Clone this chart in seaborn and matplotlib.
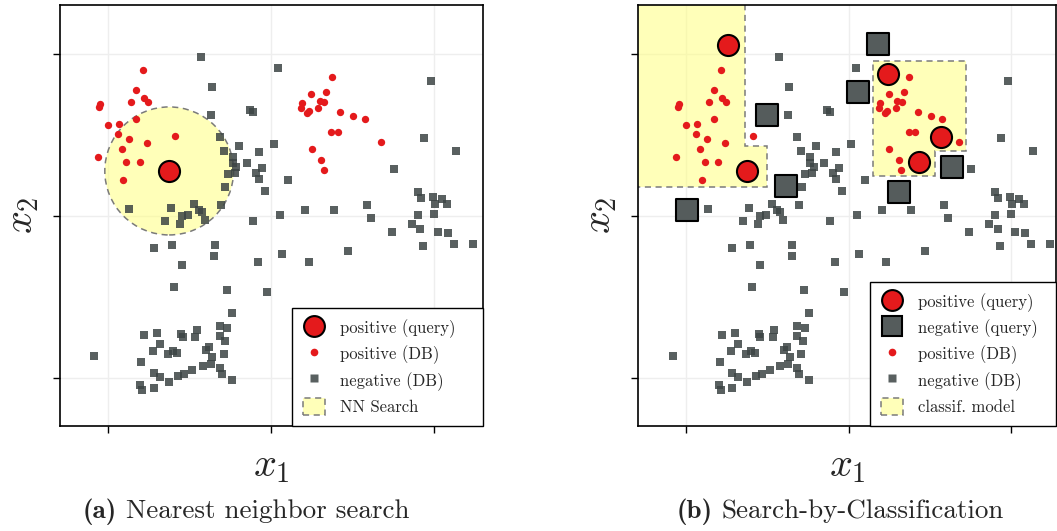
import matplotlib
matplotlib.use("Agg")
import matplotlib.pyplot as plt
import seaborn as sns
from matplotlib.patches import Circle, Polygon, Patch
from matplotlib.lines import Line2D

# ---------------------------------------------------------------- data
# database samples labelled negative
neg_x = [-0.432, 0.043, -0.365, 0.982, -0.131, -0.113, -0.371, -0.316, 0.016, -0.199,
         0.939, 1.135, -0.291, -0.076, -0.236, -0.236, -0.150, -0.213, -0.057, 0.754,
         -0.266, -0.223, -0.094, -0.076, 0.102, -0.285, -0.039, 0.902, 0.920, 0.994,
         1.047, 1.006, 1.080, -0.869, -0.611, -0.475, -0.309, -0.439, -0.422, -0.512,
         -0.547, 0.207, 0.385, 0.588, 0.053, 0.902, 1.000, -0.648, -0.406, -0.561,
         -0.113, 0.613, 0.863, 0.740, 0.916, 1.025, 1.086, -0.721, -0.605, -0.346,
         -0.352, 0.066, 0.932, 1.123, 1.240, 0.471, -0.082, 0.232, -0.549, -0.598,
         -0.273, -0.027, -0.242, -0.316, -0.270, -0.701, -0.777, -0.551, -0.543, -0.457,
         -0.469, -0.316, -0.281, -0.684, -0.727, -0.635, -0.602, -0.574, -0.398, -0.379,
         -0.363, -0.291, -1.084, -0.795, -0.420, -0.371, -0.316, -0.303, -0.486, -0.533,
         -0.570, -0.721, -0.680, -0.623, -0.242, -0.801, -0.789, -0.721]
neg_y = [0.983, 0.915, 0.798, 0.835, 0.656, 0.643, 0.625, 0.489, 0.442, 0.428,
         0.483, 0.403, 0.397, 0.391, 0.366, 0.329, 0.329, 0.302, 0.298, 0.292,
         0.261, 0.267, 0.267, 0.230, 0.218, 0.175, 0.156, 0.144, 0.113, 0.117,
         0.103, 0.076, 0.076, 0.045, 0.051, 0.072, 0.066, 0.033, 0.023, 0.006,
         -0.004, 0.033, 0.039, 0.064, 0.008, 0.004, 0.014, -0.029, -0.027, -0.053,
         -0.035, -0.016, -0.051, -0.097, -0.084, -0.097, -0.109, -0.201, -0.177, -0.183,
         -0.245, -0.238, -0.185, -0.175, -0.175, -0.220, -0.282, -0.288, -0.306, -0.442,
         -0.460, -0.473, -0.602, -0.680, -0.695, -0.721, -0.736, -0.730, -0.750, -0.705,
         -0.750, -0.742, -0.775, -0.791, -0.837, -0.853, -0.837, -0.847, -0.828, -0.812,
         -0.869, -0.853, -0.867, -0.904, -0.927, -0.915, -0.941, -0.976, -0.952, -0.976,
         -0.989, -0.972, -0.997, -1.026, -1.013, -1.042, -1.075, -1.065]

# database samples labelled positive
pos_x = [-0.787, -0.830, -0.859, -0.777, -0.754, -1.047, -1.053, -0.830, -1.000, -0.932,
         -0.939, -0.873, -0.760, -0.588, -0.914, -1.061, -0.887, -0.803, -0.906,
         0.373, 0.246, 0.340, 0.191, 0.299, 0.326, 0.184, 0.291, 0.221, 0.234,
         0.424, 0.504, 0.574, 0.369, 0.410, 0.678, 0.250, 0.307, 0.324]
pos_y = [0.898, 0.775, 0.705, 0.730, 0.705, 0.693, 0.672, 0.600, 0.563, 0.567,
         0.508, 0.473, 0.448, 0.493, 0.413, 0.362, 0.331, 0.331, 0.218,
         0.859, 0.752, 0.763, 0.697, 0.707, 0.703, 0.666, 0.668, 0.637, 0.645,
         0.639, 0.615, 0.600, 0.516, 0.520, 0.458, 0.413, 0.343, 0.282]

# nearest-neighbour query and search radius
nn_query_x = [-0.625]
nn_query_y = [0.277]
nn_radius = 0.395

# labelled queries used to train the classifier
cls_pos_x = [-0.744, -0.625, 0.244, 0.568, 0.434]
cls_pos_y = [1.057, 0.277, 0.878, 0.489, 0.331]
cls_neg_x = [-0.994, -0.502, -0.387, 0.055, 0.178, 0.307, 0.637]
cls_neg_y = [0.037, 0.625, 0.181, 0.765, 1.061, 0.144, 0.304]

# outlines of the regions the classifier marks as positive
region_a_x = [-1.6, -0.640, -0.640, -0.505, -0.505, -1.6]
region_a_y = [1.6, 1.6, 0.430, 0.430, 0.179, 0.179]
region_b_x = [0.150, 0.724, 0.724, 0.529, 0.529, 0.150]
region_b_y = [0.954, 0.954, 0.400, 0.400, 0.245, 0.245]

ticks = [-1, 0, 1]

# ---------------------------------------------------------------- style
sns.set_theme(style="whitegrid", rc={
    "axes.edgecolor": "black",
    "axes.linewidth": 1.2,
    "grid.color": "#eeeeee",
    "grid.linewidth": 1.0,
    "xtick.bottom": True,
    "ytick.left": True,
    "xtick.major.size": 5,
    "ytick.major.size": 5,
    "xtick.major.width": 1.0,
    "ytick.major.width": 1.0,
    "xtick.color": "black",
    "ytick.color": "black",
})
plt.rcParams["mathtext.fontset"] = "cm"

RED = "#e41a1c"
GREY = "#3c4444"
GREY_Q = "#555c5c"
YELLOW = (1.0, 1.0, 0.5, 0.55)
DASH = "#7a7a7a"
LEG_FONT = {"family": "cmr10", "size": 12}
CAP_SIZE = 19.5

W, H = 1057, 531
fig = plt.figure(figsize=(W / 100, H / 100), dpi=100)
ax1 = fig.add_axes([60 / W, 1 - 426 / H, 423 / W, 421 / H])
ax2 = fig.add_axes([638 / W, 1 - 426 / H, 418 / W, 421 / H])


def draw_db(ax):
    sns.scatterplot(x=neg_x, y=neg_y, marker="s", s=34, color=GREY, alpha=0.85,
                    linewidth=0, legend=False, ax=ax, zorder=3)
    sns.scatterplot(x=pos_x, y=pos_y, marker="o", s=28, color=RED,
                    linewidth=0, legend=False, ax=ax, zorder=4)


def frame(ax, xlim):
    ax.set_xlim(*xlim)
    ax.set_ylim(-1.297, 1.301)
    ax.set_xticks(ticks)
    ax.set_yticks(ticks)
    ax.set_xticklabels([])
    ax.set_yticklabels([])
    ax.set_axisbelow(True)
    ax.set_xlabel(r"$x_1$", fontsize=29, labelpad=5)
    ax.set_ylabel(r"$x_2$", fontsize=29, labelpad=5)


def legend(ax, handles, x0):
    """Legend box anchored to the lower-right corner, spanning from x0 (axes fraction)."""
    leg = ax.legend(handles=handles, loc="lower left",
                    bbox_to_anchor=(x0, 0, 1 - x0, 1), mode="expand",
                    borderaxespad=0, fancybox=False, framealpha=1,
                    edgecolor="black", prop=LEG_FONT,
                    handlelength=1.3, handleheight=1.25, labelspacing=0.42,
                    handletextpad=0.9, borderpad=0.65)
    leg.get_frame().set_linewidth(1.0)


# ---------------------------------------------------------------- (a) NN search
frame(ax1, (-1.295, 1.301))
ax1.add_patch(Circle((nn_query_x[0], nn_query_y[0]), nn_radius, facecolor=YELLOW,
                     edgecolor=DASH, linestyle=(0, (4, 3)), linewidth=1.1, zorder=2))
draw_db(ax1)
sns.scatterplot(x=nn_query_x, y=nn_query_y, marker="o", s=230, color=RED,
                edgecolor="black", linewidth=1.5, legend=False, ax=ax1, zorder=6)

h_pos_q = Line2D([], [], ls="", marker="o", markersize=15, markerfacecolor=RED,
                 markeredgecolor="black", markeredgewidth=1.5, label="positive (query)")
h_neg_q = Line2D([], [], ls="", marker="s", markersize=15, markerfacecolor=GREY_Q,
                 markeredgecolor="black", markeredgewidth=1.5, label="negative (query)")
h_pos_db = Line2D([], [], ls="", marker="o", markersize=5.5, markerfacecolor=RED,
                  markeredgecolor="none", label="positive (DB)")
h_neg_db = Line2D([], [], ls="", marker="s", markersize=6, markerfacecolor=GREY,
                  markeredgecolor="none", alpha=0.85, label="negative (DB)")


def region_handle(label):
    return Patch(facecolor=YELLOW, edgecolor=DASH, linestyle=(0, (4, 3)),
                 linewidth=1.1, label=label)


legend(ax1, [h_pos_q, h_pos_db, h_neg_db, region_handle("NN Search")],
       (292 - 60) / 423)

# ---------------------------------------------------------------- (b) classification
frame(ax2, (-1.297, 1.276))
for rx, ry in ((region_a_x, region_a_y), (region_b_x, region_b_y)):
    ax2.add_patch(Polygon(list(zip(rx, ry)), closed=True, facecolor=YELLOW,
                          edgecolor=DASH, linestyle=(0, (4, 3)), linewidth=1.1,
                          zorder=2))
draw_db(ax2)
sns.scatterplot(x=cls_neg_x, y=cls_neg_y, marker="s", s=250, color=GREY_Q,
                edgecolor="black", linewidth=1.5, legend=False, ax=ax2, zorder=6)
sns.scatterplot(x=cls_pos_x, y=cls_pos_y, marker="o", s=230, color=RED,
                edgecolor="black", linewidth=1.5, legend=False, ax=ax2, zorder=7)

legend(ax2, [h_pos_q, h_neg_q, h_pos_db, h_neg_db, region_handle("classif. model")],
       (870 - 638) / 418)


# ---------------------------------------------------------------- captions
def caption(x_center, tag, body):
    """Bold tag followed by a roman caption, centred as one line."""
    renderer = fig.canvas.get_renderer()
    y = 1 - 518 / H
    t_tag = fig.text(0, y, tag, family="cmb10", fontsize=CAP_SIZE, va="baseline")
    t_body = fig.text(0, y, body, family="cmr10", fontsize=CAP_SIZE, va="baseline")
    w_tag = t_tag.get_window_extent(renderer).width
    w_body = t_body.get_window_extent(renderer).width
    gap = 0.33 * CAP_SIZE * fig.dpi / 72
    left = x_center - (w_tag + gap + w_body) / 2
    t_tag.set_x(left / W)
    t_body.set_x((left + w_tag + gap) / W)


caption(246, "(a)", "Nearest neighbor search")
caption(840, "(b)", "Search-by-Classification")

fig.savefig("out.png", dpi=100)
